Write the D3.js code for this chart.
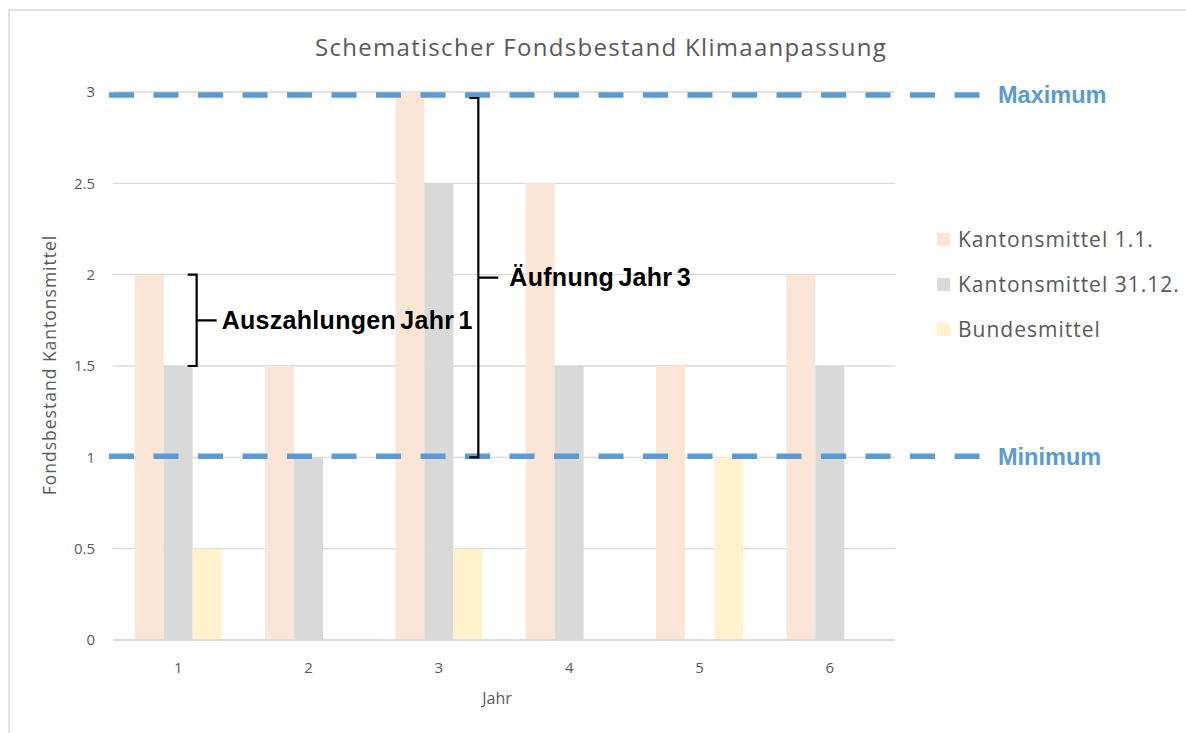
<!DOCTYPE html>
<html>
<head>
<meta charset="utf-8">
<script src="https://cdn.jsdelivr.net/npm/d3@7"></script>
<style>
  body { margin: 0; background: #fff; }
  text { font-family: "Open Sans", "Noto Sans", sans-serif; }
</style>
</head>
<body>
<script>
// data
var years = ["1", "2", "3", "4", "5", "6"];
var seriesNames = ["Kantonsmittel 1.1.", "Kantonsmittel 31.12.", "Bundesmittel"];
var kanton11 = [2, 1.5, 3, 2.5, 1.5, 2];
var kanton3112 = [1.5, 1, 2.5, 1.5, 0, 1.5];
var bundesmittel = [0.5, 0, 0.5, 0, 1, 0];
var yTicks = [0, 0.5, 1, 1.5, 2, 2.5, 3];
var limitNames = ["Maximum", "Minimum"];
var limitValues = [3, 1];

var colors = ["#FBE5D6", "#D9D9D9", "#FFF2CC"];
var blue = "#5B9BD5";
var grey = "#595959";

var W = 1186, H = 733;
var margin = {left: 113, top: 92, right: 291, bottom: 93};
var width = W - margin.left - margin.right,
    height = H - margin.top - margin.bottom;

var svg = d3.select("body").append("svg")
    .attr("width", W).attr("height", H);

// outer frame (only top/left visible)
svg.append("path")
    .attr("d", "M9," + H + "V10H" + W)
    .attr("fill", "none").attr("stroke", "#D9D9D9").attr("stroke-width", 1.5);

var g = svg.append("g").attr("transform", "translate(" + margin.left + "," + margin.top + ")");

var x0 = d3.scaleBand().domain(years).range([0, width]).paddingInner(0.333).paddingOuter(0.1665);
var x1 = d3.scaleBand().domain(seriesNames).range([0, x0.bandwidth()]);
var y = d3.scaleLinear().domain([0, 3]).range([height, 0]);

// gridlines
g.selectAll(".grid").data(yTicks).enter().append("line")
    .attr("x1", 0).attr("x2", width)
    .attr("y1", function(d) { return y(d); }).attr("y2", function(d) { return y(d); })
    .attr("stroke", "#D9D9D9").attr("stroke-width", 1.3);

// y tick labels
g.selectAll(".ylab").data(yTicks).enter().append("text")
    .attr("x", -18).attr("y", function(d) { return y(d); })
    .attr("dy", "0.35em").attr("text-anchor", "end")
    .style("font-size", "15px").style("fill", grey)
    .text(function(d) { return d; });

// bars
var rows = years.map(function(yr, i) {
  return {year: yr, vals: [kanton11[i], kanton3112[i], bundesmittel[i]]};
});
var groups = g.selectAll(".grp").data(rows).enter().append("g")
    .attr("transform", function(d) { return "translate(" + x0(d.year) + ",0)"; });
groups.selectAll("rect").data(function(d) {
    return d.vals.map(function(v, j) { return {name: seriesNames[j], v: v, c: colors[j]}; });
  }).enter().append("rect")
    .attr("x", function(d) { return x1(d.name); })
    .attr("width", x1.bandwidth())
    .attr("y", function(d) { return y(d.v); })
    .attr("height", function(d) { return height - y(d.v); })
    .attr("fill", function(d) { return d.c; });

// baseline on top of bars
g.append("line").attr("x1", 0).attr("x2", width).attr("y1", height).attr("y2", height)
    .attr("stroke", "#D9D9D9").attr("stroke-width", 1.3);

// x labels
g.selectAll(".xlab").data(years).enter().append("text")
    .attr("x", function(d) { return x0(d) + x0.bandwidth() / 2; })
    .attr("y", height + 33)
    .attr("text-anchor", "middle")
    .style("font-size", "15px").style("fill", grey)
    .text(function(d) { return d; });

// axis titles
svg.append("text").attr("x", 497).attr("y", 704).attr("text-anchor", "middle")
    .style("font-size", "16px").style("fill", grey).text("Jahr");
svg.append("text").attr("transform", "translate(56,365) rotate(-90)").attr("text-anchor", "middle")
    .style("font-size", "17.5px").style("letter-spacing", "1px").style("fill", grey)
    .text("Fondsbestand Kantonsmittel");

// title
svg.append("text").attr("x", 601).attr("y", 56).attr("text-anchor", "middle")
    .style("font-size", "24px").style("letter-spacing", "1.3px").style("fill", grey)
    .text("Schematischer Fondsbestand Klimaanpassung");

// max / min dashed lines
var lineShift = [3, -1];
limitValues.forEach(function(v, i) {
  g.append("line")
    .attr("x1", -4).attr("x2", 867)
    .attr("y1", y(v) + lineShift[i]).attr("y2", y(v) + lineShift[i])
    .attr("stroke", blue).attr("stroke-width", 5.5)
    .attr("stroke-dasharray", "25,19.5");
  g.append("text")
    .attr("x", 885).attr("y", y(v) + lineShift[i]).attr("dy", "0.35em")
    .style("font-family", "'Liberation Sans', Arial, sans-serif")
    .style("font-size", "23.5px").style("font-weight", "bold").style("fill", blue)
    .text(limitNames[i]);
});

// legend
var leg = svg.append("g").attr("transform", "translate(937,240)");
seriesNames.forEach(function(n, i) {
  leg.append("rect").attr("x", 0).attr("y", i * 45 - 7).attr("width", 13).attr("height", 13).attr("fill", colors[i]);
  leg.append("text").attr("x", 21).attr("y", i * 45).attr("dy", "0.35em")
    .style("font-size", "21px").style("letter-spacing", "1px").style("fill", grey).text(n);
});

// brackets
function bracket(xp, vTop, vBot, label, gap) {
  var yt = y(vTop), yb = y(vBot), ym = (yt + yb) / 2;
  g.append("path")
    .attr("d", "M" + (xp - 9) + "," + yt + "H" + xp + "V" + yb + "H" + (xp - 9) +
               "M" + xp + "," + ym + "H" + (xp + 20))
    .attr("fill", "none").attr("stroke", "#000").attr("stroke-width", 2.2);
  g.append("text").attr("x", xp + gap).attr("y", ym).attr("dy", "0.35em")
    .style("font-family", "'Liberation Sans', Arial, sans-serif")
    .style("font-size", "25px").style("font-weight", "bold").style("fill", "#000")
    .style("letter-spacing", "0.3px").style("word-spacing", "-3px")
    .text(label);
}
bracket(x0("1") + x1("Bundesmittel") + 4, 2, 1.5, "Auszahlungen Jahr 1", 25);
var yTop3 = y.invert(y(3) + 6);
bracket(x0("3") + x1("Bundesmittel") + 25, yTop3, 1, "Äufnung Jahr 3", 31);
</script>
</body>
</html>
